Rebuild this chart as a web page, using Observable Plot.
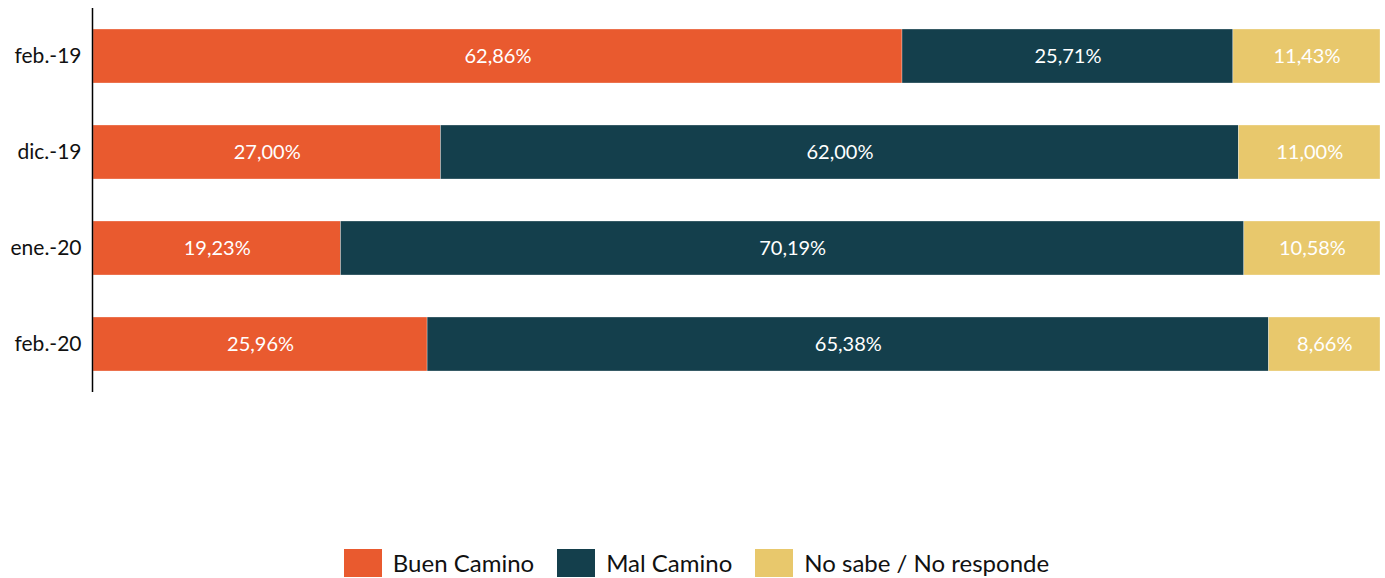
<!DOCTYPE html>
<html>
<head>
<meta charset="utf-8">
<script src="https://cdn.jsdelivr.net/npm/d3@7"></script>
<script src="https://cdn.jsdelivr.net/npm/@observablehq/plot@0.6"></script>
<style>
  body { margin: 0; background: #fff; font-family: Lato, "Open Sans", sans-serif; }
  #chart svg { display: block; }
  .legend { display: flex; justify-content: center; align-items: center; margin-top: 148px; gap: 23px; font-size: 24px; color: #111; margin-left: 8px; }
  .legend .item { display: flex; align-items: center; gap: 11px; }
  .legend .sw { width: 38px; height: 28px; display: inline-block; }
</style>
</head>
<body>
<div id="chart"></div>
<script>
const categories = ["feb.-19", "dic.-19", "ene.-20", "feb.-20"];
const seriesNames = ["Buen Camino", "Mal Camino", "No sabe / No responde"];
const seriesColors = ["#E95A2F", "#143F4C", "#E8C86C"];
const buenCamino = [62.86, 27.00, 19.23, 25.96];
const malCamino = [25.71, 62.00, 70.19, 65.38];
const noSabe = [11.43, 11.00, 10.58, 8.66];

const seriesValues = [buenCamino, malCamino, noSabe];
const data = [];
categories.forEach((c, i) => {
  seriesNames.forEach((s, j) => {
    data.push({ cat: c, series: s, value: seriesValues[j][i] });
  });
});
const fmt = v => v.toFixed(2).replace(".", ",") + "%";

const chart = Plot.plot({
  width: 1385,
  height: 400,
  marginLeft: 93,
  marginRight: 5,
  marginTop: 8,
  marginBottom: 8,
  style: { fontFamily: "Lato, 'Open Sans', sans-serif", background: "#fff" },
  x: { domain: [0, 100], axis: null },
  y: { domain: categories, paddingInner: 0.44, paddingOuter: 0.22, label: null, tickSize: 0, tickPadding: 12 },
  color: { domain: seriesNames, range: seriesColors },
  marks: [
    Plot.barX(data, Plot.stackX({ x: "value", y: "cat", z: "series", order: seriesNames, fill: "series", stroke: "#fff", strokeWidth: 0.5, strokeOpacity: 0.6 })),
    Plot.textX(data, Plot.stackX({ x: "value", y: "cat", z: "series", order: seriesNames, text: d => fmt(d.value), fill: "#fff", fontSize: 20 })),
    Plot.ruleX([0], { stroke: "#000", strokeWidth: 1.5, dx: -1 }),
    Plot.axisY({ tickSize: 0, tickPadding: 12, fontSize: 21, fill: "#111", label: null })
  ]
});
document.getElementById("chart").appendChild(chart);

const legend = document.createElement("div");
legend.className = "legend";
seriesNames.forEach((s, j) => {
  const item = document.createElement("div");
  item.className = "item";
  const sw = document.createElement("span");
  sw.className = "sw";
  sw.style.background = seriesColors[j];
  const t = document.createElement("span");
  t.textContent = s;
  item.appendChild(sw);
  item.appendChild(t);
  legend.appendChild(item);
});
document.body.appendChild(legend);
</script>
</body>
</html>
